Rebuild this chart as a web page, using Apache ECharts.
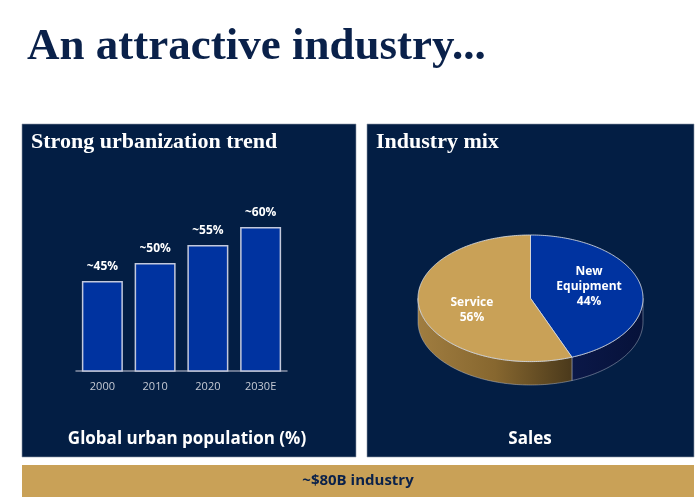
<!DOCTYPE html>
<html><head><meta charset="utf-8">
<script src="https://cdn.jsdelivr.net/npm/echarts@6/dist/echarts.min.js"></script>
<style>html,body{margin:0;padding:0;background:#fff}#c{width:700px;height:500px}</style>
</head><body><div id="c"></div>
<script>
var years = ['2000', '2010', '2020', '2030E'];
var urbanShare = [45, 50, 55, 60];
var urbanLabels = ['~45%', '~50%', '~55%', '~60%'];
var mixNames = ['New Equipment', 'Service'];
var mixShares = [44, 56];
var mixLabels = ['New\nEquipment\n44%', 'Service\n56%'];

var NAVY = '#031e44';
var GOLD = '#c9a157';
var BLUE = '#0033a0';
var sans = '"Open Sans", "DejaVu Sans", sans-serif';
var serif = '"Liberation Serif", "DejaVu Serif", serif';

// pie slices: start/end angle in degrees, clockwise from 12 o'clock
var total = mixShares.reduce(function (a, b) { return a + b; }, 0);
var acc = 0;
var pieData = mixShares.map(function (v, i) {
  var a0 = acc / total * 360; acc += v;
  return { name: mixNames[i], value: [a0, acc / total * 360, v] };
});
var topColors = [BLUE, GOLD];
var sideColors = [
  { type: 'linear', x: 0, y: 0, x2: 1, y2: 0, colorStops: [{ offset: 0, color: '#0b1848' }, { offset: 1, color: '#06123a' }] },
  { type: 'linear', x: 0, y: 0, x2: 1, y2: 0, colorStops: [{ offset: 0, color: '#a07d40' }, { offset: 0.5, color: '#87672f' }, { offset: 1, color: '#4a391b' }] }
];
var DEPTH = 0.37;

function renderSlice(params, api) {
  var i = params.dataIndex;
  var a0 = api.value(0), a1 = api.value(1);
  function P(deg, r, dy) {
    var t = deg * Math.PI / 180;
    return api.coord([r * Math.sin(t), r * Math.cos(t) - (dy || 0)]);
  }
  var children = [];
  var s0 = Math.max(a0, 90), s1 = Math.min(a1, 270);
  if (s1 > s0) {
    var pts = [], d;
    for (d = s0; d < s1; d += 1) pts.push(P(d, 1));
    pts.push(P(s1, 1));
    for (d = s1; d > s0; d -= 1) pts.push(P(d, 1, DEPTH));
    pts.push(P(s0, 1, DEPTH));
    children.push({ type: 'polygon', shape: { points: pts },
      style: { fill: sideColors[i], stroke: 'rgba(200,205,215,0.55)', lineWidth: 0.8 } });
  }
  var tp = [api.coord([0, 0])];
  for (var e = a0; e < a1; e += 1) tp.push(P(e, 1));
  tp.push(P(a1, 1));
  children.push({ type: 'polygon', shape: { points: tp },
    style: { fill: topColors[i], stroke: 'rgba(215,218,225,0.85)', lineWidth: 1 } });
  var mid = (a0 + a1) / 2 * Math.PI / 180;
  var lp = api.coord([0.53 * Math.sin(mid), 0.53 * 1.8 * Math.cos(mid)]);
  children.push({ type: 'text', x: lp[0], y: lp[1],
    style: { text: mixLabels[i], fill: '#fff', font: 'bold 12px ' + sans, align: 'center', verticalAlign: 'middle', lineHeight: 15 } });
  return { type: 'group', children: children };
}

var chart = echarts.init(document.getElementById('c'), null, { renderer: 'canvas' });
chart.setOption({
  backgroundColor: '#ffffff',
  animation: false,
  graphic: [
    { type: 'rect', z: -10, shape: { x: 22, y: 124, width: 334, height: 333 }, style: { fill: NAVY, stroke: '#8d97aa', lineWidth: 0.6 } },
    { type: 'rect', z: -10, shape: { x: 367, y: 124, width: 327, height: 333 }, style: { fill: NAVY, stroke: '#8d97aa', lineWidth: 0.6 } },
    { type: 'rect', z: -10, shape: { x: 22, y: 465, width: 672, height: 32 }, style: { fill: GOLD } },
    { type: 'text', z: 50, x: 27, y: 47, style: { text: 'An attractive industry...', fill: '#0a214a', font: 'bold 45px ' + serif, verticalAlign: 'middle' } },
    { type: 'text', z: 50, x: 31, y: 142, style: { text: 'Strong urbanization trend', fill: '#fff', font: 'bold 22px ' + serif, verticalAlign: 'middle' } },
    { type: 'text', z: 50, x: 376, y: 142, style: { text: 'Industry mix', fill: '#fff', font: 'bold 22px ' + serif, verticalAlign: 'middle' } },
    { type: 'text', z: 50, x: 187, y: 439, style: { text: 'Global urban population (%)', fill: '#fff', font: 'bold 17px ' + sans, align: 'center', verticalAlign: 'middle' } },
    { type: 'text', z: 50, x: 530, y: 439, style: { text: 'Sales', fill: '#fff', font: 'bold 17px ' + sans, align: 'center', verticalAlign: 'middle' } },
    { type: 'text', z: 50, x: 358, y: 481, style: { text: '~$80B industry', fill: '#0a214a', font: 'bold 15px ' + sans, align: 'center', verticalAlign: 'middle' } }
  ],
  grid: [
    { left: 76, right: 413, top: 155, bottom: 129 },
    { left: 418, right: 57, top: 235, bottom: 115 }
  ],
  xAxis: [
    { gridIndex: 0, type: 'category', data: years,
      axisLine: { lineStyle: { color: '#8a93a8', width: 1.5 } }, axisTick: { show: false },
      axisLabel: { color: '#c6cad4', fontSize: 11, fontFamily: sans, margin: 10 } },
    { gridIndex: 1, type: 'value', min: -1, max: 1, show: false }
  ],
  yAxis: [
    { gridIndex: 0, type: 'value', min: 20, max: 80, show: false },
    { gridIndex: 1, type: 'value', min: -1 - DEPTH, max: 1, show: false }
  ],
  series: [
    { type: 'bar', xAxisIndex: 0, yAxisIndex: 0, data: urbanShare, barWidth: 41,
      itemStyle: { color: BLUE, borderColor: '#c3c9dc', borderWidth: 1.5 },
      label: { show: true, position: 'top', distance: 8, color: '#fff', fontWeight: 'bold', fontSize: 12, fontFamily: sans,
        formatter: function (p) { return urbanLabels[p.dataIndex]; } } },
    { type: 'custom', xAxisIndex: 1, yAxisIndex: 1, clip: false, data: pieData, renderItem: renderSlice,
      encode: { x: 0, y: 1 } }
  ]
});
</script></body></html>
